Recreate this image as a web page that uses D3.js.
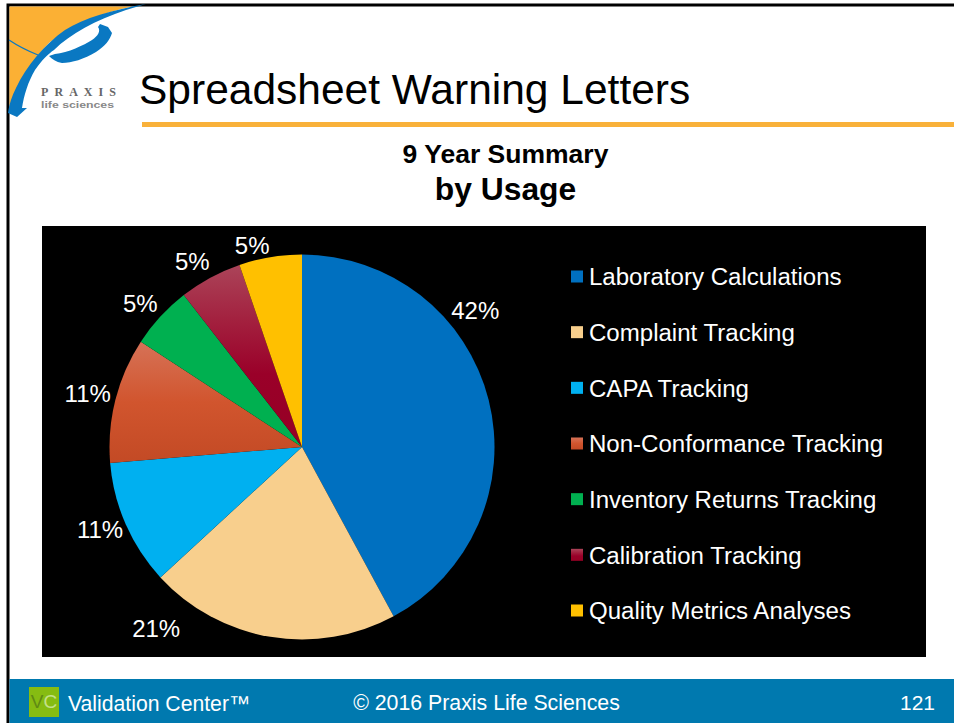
<!DOCTYPE html>
<html><head><meta charset="utf-8">
<script src="https://cdn.jsdelivr.net/npm/d3@7/dist/d3.min.js"></script>
<style>html,body{margin:0;padding:0;background:#fff;overflow:hidden}svg{display:block}text{font-family:"Liberation Sans",Arial,sans-serif}</style>
</head><body><svg id="c" width="954" height="723"></svg>
<script>
const categories=["Laboratory Calculations","Complaint Tracking","CAPA Tracking","Non-Conformance Tracking","Inventory Returns Tracking","Calibration Tracking","Quality Metrics Analyses"];
const letterCounts=[8,4,2,2,1,1,1];
const sliceLabels=["42%","21%","11%","11%","5%","5%","5%"];
const sliceColors=["#0070c0","#f8cf8d","#00b0f0","url(#gradNC)","#00b050","url(#gradCal)","#ffc000"];
const titleText="Spreadsheet Warning Letters";
const subTitles=["9 Year Summary","by Usage"];
const footerTexts=["Validation Center™","© 2016 Praxis Life Sciences","121"];
// label placement nudges away from the slice-centre rim position (px)
const labelNudgeX=[-32,-111,-8,-9,-6,-9,-15];
const labelNudgeY=[-85,-28,-3,-2,0,1,7];

const svg=d3.select("#c");
const defs=svg.append("defs");
function grad(id,stops){
  const g=defs.append("linearGradient").attr("id",id).attr("x1",0).attr("y1",0).attr("x2",0).attr("y2",1);
  stops.forEach(s=>g.append("stop").attr("offset",s[0]).attr("stop-color",s[1]));
}
grad("gradNC",[[0,"#d67257"],[0.5,"#d1552e"],[1,"#c34a25"]]);
grad("gradCal",[[0,"#ab4459"],[0.3,"#a3213f"],[0.6,"#9a0029"],[1,"#960024"]]);

// slide frame
svg.append("rect").attr("x",8).attr("y",5).attr("width",950).attr("height",720).attr("fill","#fff").attr("stroke","#000").attr("stroke-width",3);

// logo
svg.append("path").attr("fill","#fbb034")
  .attr("d","M9.5,6.5 L132,6.5 C100,13 72,26 50,42 C32,60 17,84 9.5,110 Z");
const logo=svg.append("g").attr("fill","#0a78c2");
logo.append("path").attr("d","M146,4 C112,10 84,18 65,30 C45,44 26,66 16,88 C12,96 9,104 8,113 L17,117 L27,108 L22,108 C24,95 28,82 35,70 C42,60 48,54 54,50 C70,34 96,20 126,10 Z");
logo.append("path").attr("d","M100,24 L108,27 L112,33 C110,40 105,46 96,52 C84,59 72,63 62,63 C56,62 52,59 49,56 L55,54 C68,53 84,45 92,40 C98,36 101,31 98,27 Z");
svg.append("path").attr("fill","none").attr("stroke","#0a78c2").attr("stroke-width",1.2).attr("d","M9,40 C18,46 28,51 38,55");
svg.append("text").attr("x",41).attr("y",96).attr("font-size",12).attr("font-weight",700).attr("fill","#666").attr("textLength",75).attr("lengthAdjust","spacing").style("font-family","'Liberation Serif',serif").text("PRAXIS");
svg.append("text").attr("x",41).attr("y",108).attr("font-size",9).attr("font-weight",700).attr("fill","#888").attr("textLength",73).attr("lengthAdjust","spacingAndGlyphs").text("life sciences");

// title
svg.append("text").attr("x",139).attr("y",104).attr("font-size",42.5).attr("fill","#000").text(titleText);
svg.append("rect").attr("x",142).attr("y",122).attr("width",812).attr("height",5).attr("fill","#f9b13a");
svg.append("text").attr("x",505.5).attr("y",163).attr("text-anchor","middle").attr("font-size",26.5).attr("font-weight",700).text(subTitles[0]);
svg.append("text").attr("x",505.5).attr("y",200).attr("text-anchor","middle").attr("font-size",31.8).attr("font-weight",700).text(subTitles[1]);

// chart panel
svg.append("rect").attr("x",42).attr("y",226).attr("width",884).attr("height",431).attr("fill","#000");
const cx=302,cy=447,R=192.5;
const pie=d3.pie().sort(null)(letterCounts);
const arc=d3.arc().innerRadius(0).outerRadius(R);
const g=svg.append("g").attr("transform",`translate(${cx},${cy})`);
g.selectAll("path").data(pie).join("path").attr("d",arc).attr("fill",(d,i)=>sliceColors[i]);

const labelArc=d3.arc().innerRadius(R*1.1).outerRadius(R*1.1);
g.selectAll("text").data(pie).join("text")
  .attr("x",(d,i)=>labelArc.centroid(d)[0]+labelNudgeX[i])
  .attr("y",(d,i)=>labelArc.centroid(d)[1]+labelNudgeY[i])
  .attr("text-anchor","middle").attr("dy","0.36em").attr("font-size",24).attr("fill","#fff")
  .text((d,i)=>sliceLabels[i]);

// legend
const legendY=d3.scalePoint().domain(categories).range([276.5,610.5]);
const lg=svg.append("g").selectAll("g").data(categories).join("g").attr("transform",d=>`translate(571,${legendY(d)})`);
lg.append("rect").attr("y",-6).attr("width",12).attr("height",12).attr("fill",(d,i)=>sliceColors[i]);
lg.append("text").attr("x",18).attr("dy","0.36em").attr("font-size",24.05).attr("fill","#fff").text(d=>d);

// footer
svg.append("rect").attr("x",9.5).attr("y",679).attr("width",945).attr("height",44).attr("fill","#0079af");
svg.append("rect").attr("x",29).attr("y",687).attr("width",30).attr("height",30).attr("fill","#86bc12");
const vc=svg.append("text").attr("x",44).attr("y",708).attr("text-anchor","middle").attr("font-size",19);
vc.append("tspan").attr("fill","#5f8a14").text("V");
vc.append("tspan").attr("fill","#c4e08a").text("C");
svg.append("text").attr("x",68).attr("y",711).attr("font-size",21.2).attr("fill","#fff").text(footerTexts[0]);
svg.append("text").attr("x",486.5).attr("y",710).attr("text-anchor","middle").attr("font-size",21.3).attr("fill","#fff").text(footerTexts[1]);
svg.append("text").attr("x",917.5).attr("y",710).attr("text-anchor","middle").attr("font-size",21).attr("fill","#fff").text(footerTexts[2]);
</script></body></html>
